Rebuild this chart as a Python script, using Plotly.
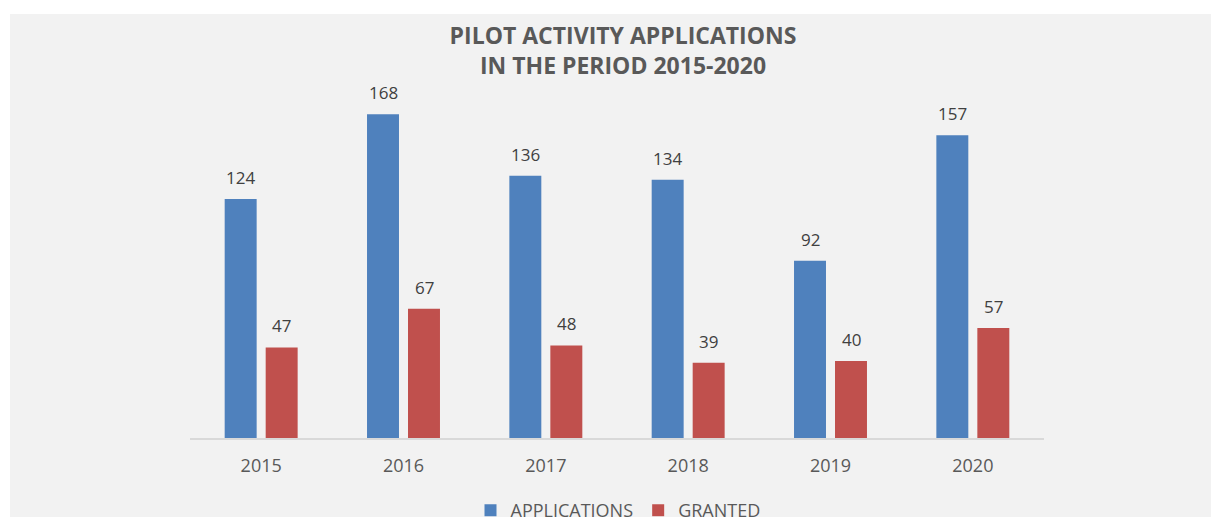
import plotly.graph_objects as go

years = ["2015", "2016", "2017", "2018", "2019", "2020"]
applications = [124, 168, 136, 134, 92, 157]
granted = [47, 67, 48, 39, 40, 57]
series_names = ["APPLICATIONS", "GRANTED"]
title_lines = ["PILOT ACTIVITY APPLICATIONS", "IN THE PERIOD 2015-2020"]

BLUE = "#4f81bd"
RED = "#c0504d"
FONT = "Open Sans"

W, H = 1211, 517
ML, MR, MT, MB = 190, 167, 91, 79
PW, PH = W - ML - MR, H - MT - MB
BASE = H - MB  # y pixel of the axis line

fig = go.Figure()
fig.add_trace(go.Bar(x=years, y=applications, name=series_names[0],
                     marker=dict(color=BLUE, line=dict(width=0))))
fig.add_trace(go.Bar(x=years, y=granted, name=series_names[1],
                     marker=dict(color=RED, line=dict(width=0))))

annotations = []
for vals, shift in ((applications, -20.5), (granted, 20.5)):
    for i, v in enumerate(vals):
        annotations.append(dict(x=i, y=v, xref="x", yref="y", text=str(v),
                                showarrow=False, xshift=shift, yshift=8,
                                yanchor="bottom",
                                font=dict(family=FONT, size=17, color="#404040")))

fig.update_layout(
    width=W, height=H,
    margin=dict(l=ML, r=MR, t=MT, b=MB, pad=0, autoexpand=False),
    paper_bgcolor="white",
    plot_bgcolor="rgba(0,0,0,0)",
    barmode="group", bargap=0.424, bargroupgap=0.22,
    title=dict(text="<b>" + "<br>".join(title_lines) + "</b>",
               x=623 / W, xanchor="center", y=1 - 44 / H, yanchor="top",
               font=dict(family=FONT, size=23, color="#595959")),
    showlegend=True,
    legend=dict(orientation="h", x=(618 - ML) / PW, xanchor="center",
                y=(BASE - 492) / PH, yanchor="top",
                font=dict(family=FONT, size=18, color="#595959"),
                bgcolor="rgba(0,0,0,0)", itemwidth=30),
    xaxis=dict(type="category", range=[-0.5, len(years) - 0.5],
               showline=True, linecolor="#d9d9d9", linewidth=2,
               showgrid=False, ticks="outside", ticklen=10,
               tickcolor="rgba(0,0,0,0)",
               tickfont=dict(family=FONT, size=18, color="#595959")),
    yaxis=dict(range=[0, 180], visible=False, showgrid=False, zeroline=False),
    annotations=annotations,
    shapes=[dict(type="rect", xref="paper", yref="paper", layer="below",
                 x0=(10 - ML) / PW, x1=(W + 10 - ML) / PW,
                 y0=(BASE - H - 20) / PH, y1=(BASE - 14) / PH,
                 fillcolor="#f2f2f2", line=dict(width=0))],
)

fig.write_html(
    "out.html",
    config={"displayModeBar": False},
    post_script="document.body.style.margin='0';document.body.style.overflow='hidden';",
)
